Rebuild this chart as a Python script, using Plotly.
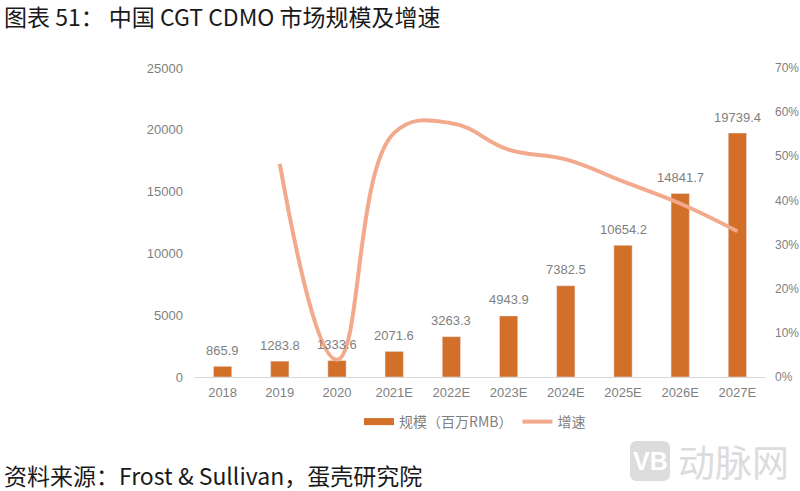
import plotly.graph_objects as go

years = ['2018', '2019', '2020', '2021E', '2022E', '2023E', '2024E', '2025E', '2026E', '2027E']
market_size = [865.9, 1283.8, 1333.6, 2071.6, 3263.3, 4943.9, 7382.5, 10654.2, 14841.7, 19739.4]
growth = [None, 0.483, 0.039, 0.553, 0.575, 0.515, 0.493, 0.443, 0.393, 0.330]
left_ticks = [0, 5000, 10000, 15000, 20000, 25000]
right_ticks = [0, 0.1, 0.2, 0.3, 0.4, 0.5, 0.6, 0.7]

BAR_COLOR = '#D26F28'
LINE_COLOR = '#F2A98C'
GREY = '#7F7F7F'
CJK = 'Noto Sans CJK SC'
LATIN = 'Liberation Sans'
W, H = 800, 491
L, R, T, B = 194, 34, 68, 114
PW, PH = W - L - R, H - T - B


def px(x):
    return (x - L) / PW


def py(y):
    return (H - B - y) / PH


fig = go.Figure()
fig.add_trace(go.Bar(x=years, y=market_size, marker_color=BAR_COLOR, width=0.32,
                     showlegend=False, hoverinfo='skip'))
fig.add_trace(go.Scatter(x=years, y=growth, yaxis='y2', mode='lines',
                         line=dict(color=LINE_COLOR, width=4, shape='spline', smoothing=1.2),
                         showlegend=False))
# legend entries, the wide bar swatch is a thick line
fig.add_trace(go.Scatter(x=[None], y=[None], mode='lines', name='规模（百万RMB）',
                         line=dict(color=BAR_COLOR, width=7)))
fig.add_trace(go.Scatter(x=[None], y=[None], mode='lines', name='增速',
                         line=dict(color=LINE_COLOR, width=4)))

# bar labels as annotations so they stay above the line
# x is the category index, '2018' would be read as position 2018
labels = [dict(x=i, y=v, xref='x', yref='y', text=f'{v:.1f}', showarrow=False,
               yanchor='middle', yshift=16, font=dict(size=13, color=GREY, family=LATIN))
          for i, v in enumerate(market_size)]

notes = [
    dict(text='图表 51：\u00a0中国 CGT CDMO 市场规模及增速', xref='paper', yref='paper',
         x=px(2), y=py(16), xanchor='left', yanchor='middle', showarrow=False,
         font=dict(size=23, color='#1A1A1A', family=CJK)),
    dict(text='资料来源：Frost & Sullivan，蛋壳研究院', xref='paper', yref='paper',
         x=px(2), y=py(475), xanchor='left', yanchor='middle', showarrow=False,
         font=dict(size=23, color='#1A1A1A', family=CJK)),
    dict(text='动脉网', xref='paper', yref='paper',
         x=px(791), y=py(461), xanchor='right', yanchor='middle', showarrow=False,
         font=dict(size=37, color='#DCDCDC', family=CJK)),
    dict(text='<b>VB</b>', xref='paper', yref='paper',
         x=px(650), y=py(461), xanchor='center', yanchor='middle', showarrow=False,
         font=dict(size=25, color='white', family=LATIN)),
]

fig.update_layout(
    width=W, height=H,
    margin=dict(l=L, r=R, t=T, b=B),
    plot_bgcolor='white', paper_bgcolor='white',
    font=dict(family=CJK, size=13, color=GREY),
    xaxis=dict(type='category', categoryorder='array', categoryarray=years, range=[-0.5, 9.5],
               automargin=False, showgrid=False, showline=True, linecolor='#D9D9D9', linewidth=1,
               ticks='', tickfont=dict(size=13, family=LATIN), ticklabelstandoff=3),
    yaxis=dict(range=[0, 25000], tickvals=left_ticks, tickformat='d', showgrid=False, zeroline=False,
               automargin=False, ticks='', ticklabelstandoff=10, tickfont=dict(size=13, family=LATIN)),
    yaxis2=dict(range=[0, 0.7], tickvals=right_ticks, tickformat='.0%', overlaying='y', side='right',
                automargin=False, showgrid=False, zeroline=False, ticks='', ticklabelstandoff=8,
                tickfont=dict(size=12, family=LATIN)),
    legend=dict(orientation='h', x=px(475), xanchor='center', y=py(406), yanchor='top',
                itemwidth=30, font=dict(size=14, family=CJK, color=GREY)),
    annotations=labels + notes,
    # rounded badge of the watermark
    shapes=[dict(type='path', xsizemode='pixel', ysizemode='pixel', xref='paper', yref='paper',
                 xanchor=px(650), yanchor=py(461), layer='below',
                 path='M -13 -20 L 13 -20 Q 20 -20 20 -13 L 20 13 Q 20 20 13 20 '
                      'L -13 20 Q -20 20 -20 13 L -20 -13 Q -20 -20 -13 -20 Z',
                 fillcolor='#DCDCDC', line=dict(width=0))],
)

# the default body margin would shift the chart by 8px
fig.write_html("out.html", config={'displayModeBar': False},
               post_script="document.body.style.margin='0';")
